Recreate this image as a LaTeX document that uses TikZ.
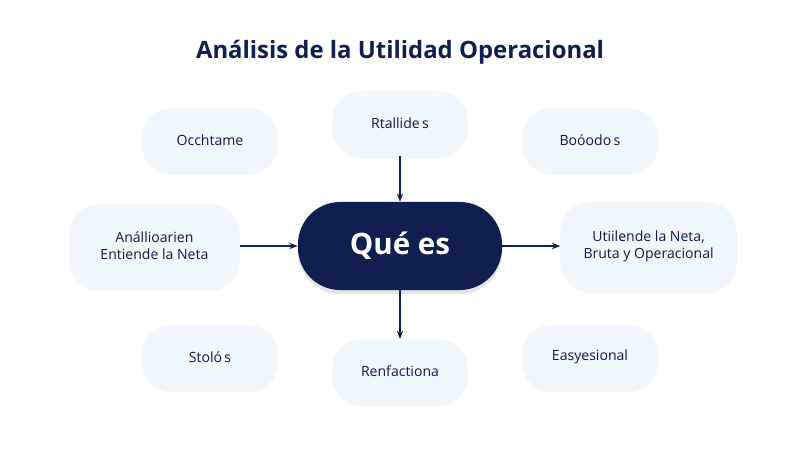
\documentclass[tikz,border=0pt]{standalone}
\usepackage{fontspec}
\setmainfont{Open Sans}
\usepackage{tikz}
\usetikzlibrary{positioning,arrows.meta,shadows}

\definecolor{navy}{HTML}{0F1F4F}
\definecolor{pill}{HTML}{F2F5F9}

\begin{document}
\begin{tikzpicture}
    [ topic/.style =
      { rounded corners=21pt, fill=pill, minimum width=3.4cm, minimum height=1.6cm,
        align=center, font=\fontsize{10}{12}\selectfont, text=navy!90!black,
        drop shadow={opacity=.08, shadow xshift=0pt, shadow yshift=-2pt} }
    , hub/.style =
      { rounded corners=30pt, fill=navy, minimum width=5.1cm, minimum height=2.2cm,
        text=white, font=\fontsize{21}{24}\selectfont\bfseries,
        drop shadow={opacity=.2, shadow xshift=0pt, shadow yshift=-3pt} }
    , link/.style =
      { draw=navy, thick, -{Stealth[length=6pt]} }
    ]
    \useasboundingbox [fill=white] (0,0) rectangle (20,11.25);
    \node (title) at (10,9.95)
      {\fontsize{17}{21}\selectfont\bfseries\color{navy}Análisis de la Utilidad Operacional};

    \node [hub] (que) at (10,5.1) {Qué es};
    \node [topic] (rtallide) [above=1.15cm of que] {Rtallide\,s};
    \node [topic] (renfactiona) [below=1.22cm of que] {Renfactiona};
    \node [topic, minimum width=4.25cm, minimum height=2.1cm] (analli) [left=1.45cm of que]
      {Anállioarien\\Entiende la Neta};
    \node [topic, minimum width=4.4cm, minimum height=2.2cm] (utilende) [right=1.45cm of que]
      {Utiilende la Neta,\\Bruta y Operacional};
    \node [topic] (occhetame) at (5.25,7.75) {Occhtame};
    \node [topic] (bobedo) at (14.75,7.75) {Boóodo\,s};
    \node [topic] (stolo) at (5.25,2.32) {Stoló\,s};
    \node [topic] (easyes) at (14.75,2.32) {Easyesional};

    \draw [link] (rtallide) -- (que);
    \draw [link] (analli) -- (que);
    \draw [link] (que) -- (utilende);
    \draw [link] (que) -- (renfactiona);
\end{tikzpicture}
\end{document}
